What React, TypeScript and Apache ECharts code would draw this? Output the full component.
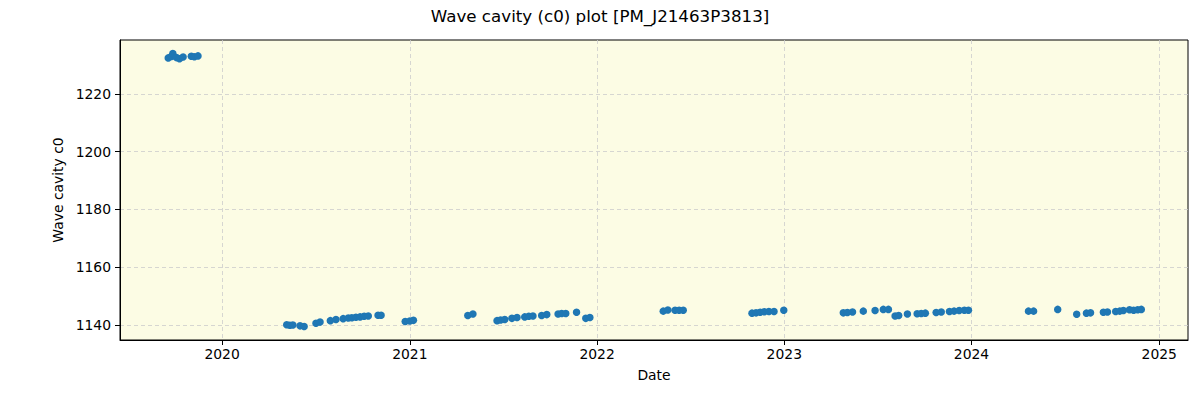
import React, { useEffect, useRef } from "react";
import * as echarts from "echarts";

const TITLE = "Wave cavity (c0) plot [PM_J21463P3813]";
const X_NAME = "Date";
const Y_NAME = "Wave cavity c0";

const dates: string[] = [
  "2019-09-18", "2019-09-24", "2019-09-27", "2019-10-04", "2019-10-10", "2019-10-17", "2019-11-02", "2019-11-08", "2019-11-15",
  "2020-05-06", "2020-05-12", "2020-05-18", "2020-06-01", "2020-06-09", "2020-07-02", "2020-07-10", "2020-07-30", "2020-08-10",
  "2020-08-24", "2020-09-03", "2020-09-10", "2020-09-18", "2020-09-26", "2020-10-04", "2020-10-12", "2020-10-31", "2020-11-06",
  "2020-12-23", "2021-01-01", "2021-01-08",
  "2021-04-24", "2021-05-04", "2021-06-20", "2021-06-27", "2021-07-05", "2021-07-19", "2021-07-29", "2021-08-13", "2021-08-21",
  "2021-08-29", "2021-09-15", "2021-09-25", "2021-10-17", "2021-10-24", "2021-11-01", "2021-11-22", "2021-12-10", "2021-12-18",
  "2022-05-10", "2022-05-19", "2022-06-02", "2022-06-10", "2022-06-18", "2022-10-30", "2022-11-07", "2022-11-15", "2022-11-23",
  "2022-12-02", "2022-12-12", "2022-12-31",
  "2023-04-26", "2023-05-04", "2023-05-14", "2023-06-04", "2023-06-27", "2023-07-13", "2023-07-23", "2023-08-05", "2023-08-12",
  "2023-08-29", "2023-09-17", "2023-09-25", "2023-10-03", "2023-10-24", "2023-11-03", "2023-11-19", "2023-11-28", "2023-12-08",
  "2023-12-18", "2023-12-26",
  "2024-04-21", "2024-05-01", "2024-06-17", "2024-07-24", "2024-08-12", "2024-08-20", "2024-09-14", "2024-09-22", "2024-10-08",
  "2024-10-16", "2024-10-23", "2024-11-04", "2024-11-12", "2024-11-20", "2024-11-27",
];

const values: number[] = [
  1232.5, 1233.0, 1234.0, 1232.6, 1232.2, 1232.8, 1233.1, 1232.9, 1233.2,
  1140.1, 1139.9, 1140.0, 1139.7, 1139.5, 1140.6, 1141.0, 1141.5, 1141.9,
  1142.2, 1142.4, 1142.5, 1142.7, 1142.8, 1143.0, 1143.1, 1143.4, 1143.4,
  1141.2, 1141.4, 1141.6,
  1143.3, 1143.8, 1141.5, 1141.7, 1141.9, 1142.3, 1142.6, 1142.8, 1143.0,
  1143.1, 1143.3, 1143.6, 1143.8, 1144.0, 1144.0, 1144.4, 1142.3, 1142.6,
  1144.8, 1145.2, 1145.1, 1145.1, 1145.1, 1144.1, 1144.2, 1144.4, 1144.6,
  1144.7, 1144.7, 1145.1,
  1144.2, 1144.3, 1144.5, 1144.8, 1145.0, 1145.4, 1145.4, 1143.1, 1143.3,
  1143.8, 1143.9, 1144.0, 1144.1, 1144.3, 1144.5, 1144.7, 1144.8, 1145.0,
  1145.1, 1145.1,
  1144.8, 1144.8, 1145.4, 1143.7, 1144.1, 1144.2, 1144.4, 1144.5, 1144.7,
  1144.8, 1145.0, 1145.3, 1145.1, 1145.3, 1145.4,
];

const xTickDates: string[] = ["2020-01-01", "2021-01-01", "2022-01-01", "2023-01-01", "2024-01-01", "2025-01-01"];
const yTicks: number[] = [1140, 1160, 1180, 1200, 1220];
const X_MIN = "2019-06-16";
const X_MAX = "2025-02-26";
const Y_MIN = 1134.8;
const Y_MAX = 1238.7;

const FONT = "DejaVu Sans";

export default function App() {
  const ref = useRef<HTMLDivElement>(null);
  useEffect(() => {
    if (!ref.current) return;
    const chart = echarts.init(ref.current, undefined, { renderer: "svg" });
    const ts = (d: string) => new Date(d + "T00:00:00Z").getTime();
    const xTicks = xTickDates.map(ts);
    const gridLine = { show: true, lineStyle: { color: "#cccccc", type: [4, 3] as any, width: 0.8 } };
    chart.setOption({
      animation: false,
      backgroundColor: "#ffffff",
      textStyle: { fontFamily: FONT },
      title: {
        text: TITLE,
        left: "center",
        top: 2,
        textStyle: { fontFamily: FONT, fontSize: 16.7, fontWeight: "normal", color: "#000" },
      },
      grid: {
        left: 120,
        right: 12,
        top: 40,
        bottom: 60,
        show: true,
        backgroundColor: "#fcfce4",
        borderColor: "#000",
        borderWidth: 1,
      },
      xAxis: {
        type: "value",
        min: ts(X_MIN),
        max: ts(X_MAX),
        name: X_NAME,
        nameLocation: "middle",
        nameGap: 28,
        nameTextStyle: { fontFamily: FONT, fontSize: 13.9, color: "#000" },
        axisLine: { show: true, lineStyle: { color: "#000", width: 1 } },
        axisTick: { show: true, inside: false, length: 5, customValues: xTicks, lineStyle: { color: "#000" } },
        axisLabel: {
          customValues: xTicks,
          margin: 7,
          fontFamily: FONT,
          fontSize: 13.9,
          color: "#000",
          formatter: (v: number) => String(new Date(v).getUTCFullYear()),
        },
        splitLine: gridLine,
      },
      yAxis: {
        type: "value",
        min: Y_MIN,
        max: Y_MAX,
        name: Y_NAME,
        nameLocation: "middle",
        nameGap: 50,
        nameTextStyle: { fontFamily: FONT, fontSize: 13.9, color: "#000" },
        axisLine: { show: true, lineStyle: { color: "#000", width: 1 } },
        axisTick: { show: true, inside: false, length: 5, customValues: yTicks, lineStyle: { color: "#000" } },
        axisLabel: {
          customValues: yTicks,
          margin: 9,
          fontFamily: FONT,
          fontSize: 13.9,
          color: "#000",
          formatter: (v: number) => String(v),
        },
        splitLine: gridLine,
      },
      series: [
        {
          type: "scatter",
          data: dates.map((d, i) => [ts(d), values[i]]),
          symbol: "circle",
          symbolSize: 7.5,
          itemStyle: { color: "#1f77b4", opacity: 1 },
        },
      ],
    });
    return () => chart.dispose();
  }, []);
  return <div ref={ref} style={{ position: "absolute", left: 0, top: 0, width: 1200, height: 400 }} />;
}
